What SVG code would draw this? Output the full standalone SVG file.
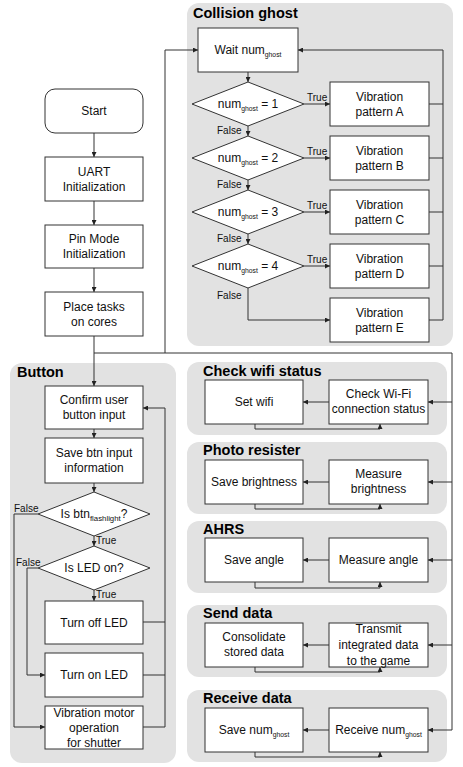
<svg xmlns="http://www.w3.org/2000/svg" width="463" height="767" viewBox="0 0 463 767">
<defs>
<marker id="ah" markerUnits="userSpaceOnUse" markerWidth="5" markerHeight="5" refX="5" refY="2.5" orient="auto">
<path d="M0,0 L5,2.5 L0,5 z" fill="#222"/>
</marker>
<style>
.panel{fill:#e2e2e2;stroke:none}
.box{fill:#fff;stroke:#333;stroke-width:1}
.t{font-family:"Liberation Sans",Arial,sans-serif;font-size:12px;fill:#111;text-anchor:middle}
.title{font-family:"Liberation Sans",Arial,sans-serif;font-size:14.5px;font-weight:bold;fill:#000}
.lbl{font-family:"Liberation Sans",Arial,sans-serif;font-size:10px;fill:#111}
.sub{font-size:6.8px}
.subf{font-size:7.8px}
.c{fill:none;stroke:#333;stroke-width:1}
.a{marker-end:url(#ah)}
</style>
</defs>
<rect width="463" height="767" fill="#fff"/>

<!-- panels -->
<g id="panel-collision"><rect class="panel" x="187" y="3" width="266" height="343" rx="12"/><text class="title" x="193" y="18">Collision ghost</text></g>
<g id="panel-button"><rect class="panel" x="10" y="363" width="166" height="400" rx="12"/><text class="title" x="17" y="377">Button</text></g>
<g id="panel-wifi"><rect class="panel" x="187" y="362" width="260" height="73" rx="12"/><text class="title" x="203" y="376">Check wifi status</text></g>
<g id="panel-photo"><rect class="panel" x="187" y="442" width="260" height="72" rx="12"/><text class="title" x="203" y="455">Photo resister</text></g>
<g id="panel-ahrs"><rect class="panel" x="187" y="521" width="260" height="72" rx="12"/><text class="title" x="203" y="534">AHRS</text></g>
<g id="panel-send"><rect class="panel" x="187" y="605" width="260" height="72" rx="12"/><text class="title" x="203" y="618">Send data</text></g>
<g id="panel-receive"><rect class="panel" x="187" y="690" width="260" height="72" rx="12"/><text class="title" x="203" y="703">Receive data</text></g>

<!-- connectors -->
<g id="connectors">
<path class="c a" d="M94,133 V157"/>
<path class="c a" d="M94,201 V225"/>
<path class="c a" d="M94,268 V292"/>
<path class="c a" d="M94,336 V386"/>
<path class="c" d="M94,353 H452 V730"/>
<path class="c a" d="M165,353 V50 H198"/>
<!-- collision ghost -->
<path class="c a" d="M248,72 V82"/>
<path class="c a" d="M248,126 V136"/>
<path class="c a" d="M248,180 V190"/>
<path class="c a" d="M248,234 V244"/>
<path class="c a" d="M304,104 H330"/>
<path class="c a" d="M304,158 H330"/>
<path class="c a" d="M304,212 H330"/>
<path class="c a" d="M304,266 H330"/>
<path class="c a" d="M248,288 V320 H330"/>
<path class="c" d="M429,104 H443 M429,158 H443 M429,212 H443 M429,266 H443"/>
<path class="c a" d="M429,320 H443 V50 H298"/>
<!-- button -->
<path class="c a" d="M94,429 V438"/>
<path class="c a" d="M94,483 V492"/>
<path class="c a" d="M94,536 V546"/>
<path class="c a" d="M94,590 V601"/>
<path class="c a" d="M38,514 H14 V727 H45"/>
<path class="c a" d="M38,568 H27 V675 H45"/>
<path class="c" d="M143,622 H165 M143,675 H165"/>
<path class="c a" d="M143,727 H165 V408 H143"/>
<!-- right panels -->
<path class="c a" d="M452,402 H428"/>
<path class="c a" d="M329,402 H303"/>
<path class="c a" d="M255,424 V429 H380 V424"/>
<path class="c a" d="M452,482 H428"/>
<path class="c a" d="M329,482 H303"/>
<path class="c a" d="M255,504 V509 H380 V504"/>
<path class="c a" d="M452,560 H428"/>
<path class="c a" d="M329,560 H303"/>
<path class="c a" d="M255,582 V588 H380 V582"/>
<path class="c a" d="M452,645 H428"/>
<path class="c a" d="M329,645 H303"/>
<path class="c a" d="M255,667 V672 H380 V667"/>
<path class="c a" d="M452,730 H428"/>
<path class="c a" d="M329,730 H303"/>
<path class="c a" d="M255,752 V757 H380 V752"/>
</g>

<!-- main flow -->
<g id="start"><rect class="box" x="45" y="89" width="98" height="44" rx="10"/><text class="t" x="94" y="115">Start</text></g>
<g id="uart"><rect class="box" x="45" y="157" width="98" height="44"/><text class="t" x="94" y="176">UART</text><text class="t" x="94" y="191">Initialization</text></g>
<g id="pinmode"><rect class="box" x="45" y="225" width="98" height="43"/><text class="t" x="94" y="243">Pin Mode</text><text class="t" x="94" y="258">Initialization</text></g>
<g id="placetasks"><rect class="box" x="45" y="292" width="98" height="44"/><text class="t" x="94" y="311">Place tasks</text><text class="t" x="94" y="326">on cores</text></g>

<!-- collision ghost -->
<g id="wait"><rect class="box" x="198" y="28" width="100" height="44"/><text class="t" x="248" y="54">Wait num<tspan class="sub" dy="3">ghost</tspan></text></g>
<g id="d1"><polygon class="box" points="192,104 248,82 304,104 248,126"/><text class="t" x="248" y="108">num<tspan class="sub" dy="3">ghost</tspan><tspan dy="-3"> = 1</tspan></text></g>
<g id="d2"><polygon class="box" points="192,158 248,136 304,158 248,180"/><text class="t" x="248" y="162">num<tspan class="sub" dy="3">ghost</tspan><tspan dy="-3"> = 2</tspan></text></g>
<g id="d3"><polygon class="box" points="192,212 248,190 304,212 248,234"/><text class="t" x="248" y="216">num<tspan class="sub" dy="3">ghost</tspan><tspan dy="-3"> = 3</tspan></text></g>
<g id="d4"><polygon class="box" points="192,266 248,244 304,266 248,288"/><text class="t" x="248" y="270">num<tspan class="sub" dy="3">ghost</tspan><tspan dy="-3"> = 4</tspan></text></g>
<g id="labels-cg">
<text class="lbl" x="307" y="101">True</text>
<text class="lbl" x="307" y="155">True</text>
<text class="lbl" x="307" y="209">True</text>
<text class="lbl" x="307" y="263">True</text>
<text class="lbl" x="217" y="134">False</text>
<text class="lbl" x="217" y="188">False</text>
<text class="lbl" x="217" y="242">False</text>
<text class="lbl" x="217" y="299">False</text>
</g>
<g id="vibA"><rect class="box" x="330" y="82" width="99" height="44"/><text class="t" x="379.5" y="101">Vibration</text><text class="t" x="379.5" y="116">pattern A</text></g>
<g id="vibB"><rect class="box" x="330" y="136" width="99" height="44"/><text class="t" x="379.5" y="155">Vibration</text><text class="t" x="379.5" y="170">pattern B</text></g>
<g id="vibC"><rect class="box" x="330" y="190" width="99" height="44"/><text class="t" x="379.5" y="209">Vibration</text><text class="t" x="379.5" y="224">pattern C</text></g>
<g id="vibD"><rect class="box" x="330" y="244" width="99" height="44"/><text class="t" x="379.5" y="263">Vibration</text><text class="t" x="379.5" y="278">pattern D</text></g>
<g id="vibE"><rect class="box" x="330" y="298" width="99" height="44"/><text class="t" x="379.5" y="317">Vibration</text><text class="t" x="379.5" y="332">pattern E</text></g>

<!-- button -->
<g id="confirm"><rect class="box" x="45" y="386" width="98" height="43"/><text class="t" x="94" y="404">Confirm user</text><text class="t" x="94" y="419">button input</text></g>
<g id="savebtn"><rect class="box" x="45" y="438" width="98" height="45"/><text class="t" x="94" y="457">Save btn input</text><text class="t" x="94" y="472">information</text></g>
<g id="isbtn"><polygon class="box" points="38,514 94,492 150,514 94,536"/><text class="t" x="94" y="518">Is btn<tspan class="subf" dy="3">flashlight</tspan><tspan dy="-3">?</tspan></text></g>
<g id="isled"><polygon class="box" points="38,568 94,546 150,568 94,590"/><text class="t" x="94" y="572">Is LED on?</text></g>
<g id="labels-btn">
<text class="lbl" x="96" y="544">True</text>
<text class="lbl" x="96" y="598">True</text>
<text class="lbl" x="14" y="512">False</text>
<text class="lbl" x="16" y="566">False</text>
</g>
<g id="turnoff"><rect class="box" x="45" y="601" width="98" height="43"/><text class="t" x="94" y="627">Turn off LED</text></g>
<g id="turnon"><rect class="box" x="45" y="653" width="98" height="44"/><text class="t" x="94" y="679">Turn on LED</text></g>
<g id="vibmotor"><rect class="box" x="45" y="706" width="98" height="43"/><text class="t" x="94" y="717">Vibration motor</text><text class="t" x="94" y="732">operation</text><text class="t" x="94" y="747">for shutter</text></g>

<!-- right panels -->
<g id="setwifi"><rect class="box" x="205" y="380" width="98" height="44"/><text class="t" x="254" y="406">Set wifi</text></g>
<g id="checkwifi"><rect class="box" x="329" y="380" width="99" height="44"/><text class="t" x="378.5" y="398">Check Wi-Fi</text><text class="t" x="378.5" y="413">connection status</text></g>
<g id="savebright"><rect class="box" x="205" y="460" width="98" height="44"/><text class="t" x="254" y="486">Save brightness</text></g>
<g id="measbright"><rect class="box" x="329" y="460" width="99" height="44"/><text class="t" x="378.5" y="478">Measure</text><text class="t" x="378.5" y="493">brightness</text></g>
<g id="saveangle"><rect class="box" x="205" y="538" width="98" height="44"/><text class="t" x="254" y="564">Save angle</text></g>
<g id="measangle"><rect class="box" x="329" y="538" width="99" height="44"/><text class="t" x="378.5" y="564">Measure angle</text></g>
<g id="consolidate"><rect class="box" x="205" y="623" width="98" height="44"/><text class="t" x="254" y="641">Consolidate</text><text class="t" x="254" y="656">stored data</text></g>
<g id="transmit"><rect class="box" x="329" y="623" width="99" height="44"/><text class="t" x="378.5" y="633">Transmit</text><text class="t" x="378.5" y="649">integrated data</text><text class="t" x="378.5" y="665">to the game</text></g>
<g id="savenum"><rect class="box" x="205" y="708" width="98" height="44"/><text class="t" x="254" y="734">Save num<tspan class="sub" dy="3">ghost</tspan></text></g>
<g id="receivenum"><rect class="box" x="329" y="708" width="99" height="44"/><text class="t" x="378.5" y="734">Receive num<tspan class="sub" dy="3">ghost</tspan></text></g>
</svg>
